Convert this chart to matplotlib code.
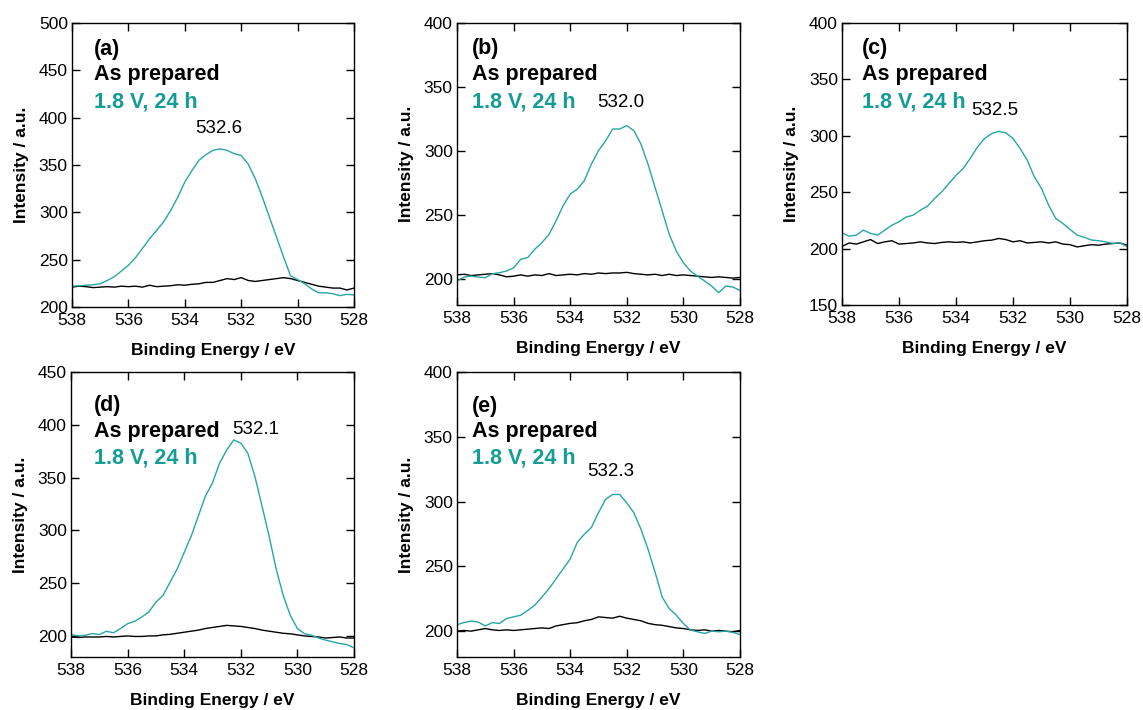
import matplotlib
matplotlib.use("Agg")
import matplotlib.pyplot as plt

plt.rcParams['font.family'] = ['Liberation Sans', 'DejaVu Sans']

# Binding energy grid (eV)
energy = [538.0, 537.75, 537.5, 537.25, 537.0, 536.75, 536.5, 536.25, 536.0, 535.75,
          535.5, 535.25, 535.0, 534.75, 534.5, 534.25, 534.0, 533.75, 533.5, 533.25,
          533.0, 532.75, 532.5, 532.25, 532.0, 531.75, 531.5, 531.25, 531.0, 530.75,
          530.5, 530.25, 530.0, 529.75, 529.5, 529.25, 529.0, 528.75, 528.5, 528.25,
          528.0]

# O 1s spectra, as-prepared samples
prep_a = [221, 222, 221.5, 220.5, 221, 221.5, 221, 222, 221.5, 222,
          221, 223, 221.5, 222, 222.5, 223.5, 223, 224, 224.5, 226,
          226, 228, 230, 229, 231, 228, 227, 228, 229, 230,
          231, 230, 228, 226, 224, 222, 221, 220, 220, 218, 220]
prep_b = [203.5, 204, 203, 203.5, 204, 204.5, 203.5, 202, 202.5, 203.5,
          202.5, 203.5, 203, 204.5, 203, 203.5, 204, 203.5, 204.5, 204,
          205, 204.5, 205, 205, 205.5, 204.5, 204, 203.5, 204, 203,
          204, 203, 203.5, 203, 202.5, 202, 201.5, 202, 201.5, 201, 201.5]
prep_c = [202, 205, 204, 206, 208, 204.5, 206, 207, 204, 204.5,
          205, 206, 205, 204.5, 205.5, 206, 205.5, 206, 205, 206,
          207, 207.5, 209, 208, 206, 207, 205, 205.5, 206, 205,
          206, 204, 203.5, 201.5, 202.5, 203.5, 203, 204, 204.5, 205, 203]
prep_d = [199, 198.5, 199, 199, 199, 199.5, 199, 199.5, 200, 199.5,
          199.5, 200, 200, 201, 201.5, 202.5, 203.5, 204.5, 205.5, 207,
          208, 209, 210, 209.5, 209, 208, 207, 205.5, 204.5, 203.5,
          202.5, 202, 201, 200, 199.5, 199, 198, 198.5, 199, 198, 198]
prep_e = [200, 200.5, 200, 201, 202, 201, 200.5, 201, 200.5, 201,
          201.5, 202, 202.5, 202, 204, 205, 206, 206.5, 208, 209,
          211, 210.5, 210, 211.5, 210, 209, 208, 206, 205, 204.5,
          203.5, 202.5, 202, 201, 200.5, 201, 200, 200.5, 200, 199.5, 200.5]

# O 1s spectra after 1.8 V for 24 h
pol_a = [222, 222.5, 223, 223.5, 224.6, 228, 232, 238, 244, 252,
         262, 272, 281, 290, 302, 316, 332, 344, 355, 361,
         365.5, 367, 365.5, 362, 360, 351, 335.5, 316, 295, 274,
         253, 233, 229, 224.6, 219, 215, 215, 214, 212, 213.4, 212.7]
pol_b = [198.7, 201.8, 202.6, 201.8, 201.3, 204.4, 205.2, 206.5, 209, 215.6,
         217, 223.5, 228.7, 235, 245.6, 257.4, 266.5, 270.4, 277, 290,
         300.4, 308, 317.3, 317.3, 320, 316, 305.6, 290, 271.7, 253.5,
         235.2, 222, 213, 206.5, 202.6, 198.7, 194.8, 189.6, 194.8, 194, 191.4]
pol_c = [214, 211, 212, 216.4, 213.5, 212, 216.4, 220.8, 223.8, 228,
         229.7, 234, 237.7, 244.5, 250.4, 257.7, 265, 271, 280, 290,
         297.6, 302, 304, 302.6, 297.6, 288.7, 278.4, 263.6, 253.3, 238.5,
         226.7, 222.3, 217, 212, 210, 207.6, 207, 206, 204.6, 205.2, 201.7]
pol_d = [201.3, 200, 200.6, 202.2, 201.3, 204.4, 203, 207, 211.6, 213.8,
         217.9, 222.6, 232, 238.3, 250.8, 263.4, 279, 294.7, 313.6, 332.4,
         345, 363.7, 376, 385.7, 382.6, 373, 351, 323, 294.7, 263.4,
         238.3, 219.4, 207, 202.2, 200.6, 198, 196, 194.4, 192.8, 191.8, 188.7]
pol_e = [205, 206.6, 207.7, 207, 204, 206.6, 205.9, 209.7, 211, 212.3,
         216, 220, 226.3, 232.7, 240.4, 248, 255.7, 268.5, 274.8, 280,
         291.4, 301.7, 305.5, 305.5, 299, 291.4, 278.7, 263.3, 245.5, 226.3,
         217.4, 212.3, 205.9, 200.8, 199.5, 198.2, 200, 199.5, 200, 199, 197.4]

panel_tags = ['(a)', '(b)', '(c)', '(d)', '(e)']
peak_labels = ['532.6', '532.0', '532.5', '532.1', '532.3']
prepared = [prep_a, prep_b, prep_c, prep_d, prep_e]
polarized = [pol_a, pol_b, pol_c, pol_d, pol_e]
y_limits = [(200, 500), (180, 400), (150, 400), (180, 450), (180, 400)]
y_ticks = [[200, 250, 300, 350, 400, 450, 500],
           [200, 250, 300, 350, 400],
           [150, 200, 250, 300, 350, 400],
           [200, 250, 300, 350, 400, 450],
           [200, 250, 300, 350, 400]]
x_ticks = [538, 536, 534, 532, 530, 528]
label_prepared = 'As prepared'
label_polarized = '1.8 V, 24 h'

TEAL = '#26a6a6'
TEAL_TEXT = '#149c95'

# axes rectangles [left, bottom, width, height] in figure fractions
rects = [[0.063, 0.5676, 0.2467, 0.400],
         [0.3998, 0.5704, 0.2476, 0.3972],
         [0.7367, 0.5704, 0.2493, 0.3972],
         [0.0621, 0.0746, 0.2476, 0.4014],
         [0.3998, 0.0746, 0.2476, 0.4014]]
# text block placement (axes fraction x, y for tag / prepared / polarized)
text_x = [0.078, 0.053, 0.07, 0.08, 0.053]
text_y = [(0.908, 0.820, 0.722), (0.908, 0.816, 0.720), (0.908, 0.816, 0.720),
          (0.884, 0.793, 0.698), (0.880, 0.793, 0.698)]
# peak label anchor in data coordinates
peak_xy = [(532.79, 389), (532.2, 338), (532.65, 322), (531.48, 396), (532.56, 323)]

fig = plt.figure(figsize=(11.43, 7.10), dpi=100)

for i in range(5):
    ax = fig.add_axes(rects[i])
    ax.plot(energy, prepared[i], color='black', lw=1.0)
    ax.plot(energy, polarized[i], color=TEAL, lw=1.0)
    ax.set_xlim(538, 528)
    ax.set_ylim(*y_limits[i])
    ax.set_xticks(x_ticks)
    ax.set_yticks(y_ticks[i])
    ax.tick_params(direction='in', length=6, width=1, top=True, right=True,
                   labelsize=12.5, color='black')
    ax.tick_params(axis='x', pad=4)
    ax.tick_params(axis='y', pad=3)
    for sp in ax.spines.values():
        sp.set_linewidth(1.0)
    ax.set_xlabel('Binding Energy / eV', fontsize=12.5, fontweight='bold', labelpad=11)
    ax.set_ylabel('Intensity / a.u.', fontsize=12.5, fontweight='bold', labelpad=7)

    tx = text_x[i]
    ty = text_y[i]
    ax.text(tx, ty[0], panel_tags[i], transform=ax.transAxes, fontsize=15.5,
            fontweight='bold', va='center', ha='left')
    ax.text(tx, ty[1], label_prepared, transform=ax.transAxes, fontsize=15.5,
            fontweight='bold', va='center', ha='left')
    ax.text(tx, ty[2], label_polarized, transform=ax.transAxes, fontsize=15.5,
            fontweight='bold', va='center', ha='left', color=TEAL_TEXT)
    px, py = peak_xy[i]
    ax.text(px, py, peak_labels[i], fontsize=13.5, va='center', ha='center')

fig.savefig('out.png', dpi=100)
